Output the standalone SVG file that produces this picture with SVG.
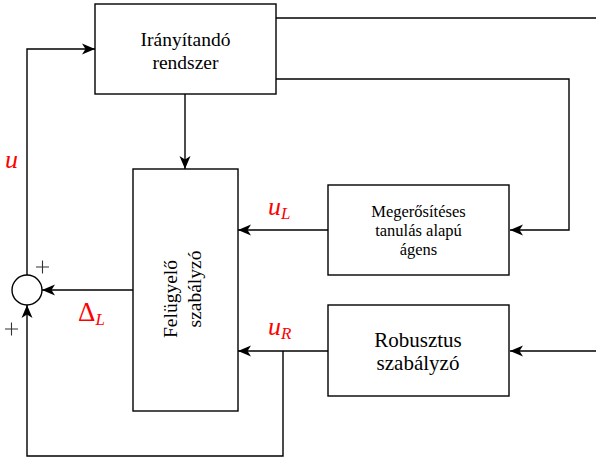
<svg xmlns="http://www.w3.org/2000/svg" width="596" height="459" viewBox="0 0 596 459">
<style>
.box{fill:#fff;stroke:#000;stroke-width:1.4}
.ln{fill:none;stroke:#000;stroke-width:1.4}
text{font-family:'Liberation Serif','Times New Roman',serif}
.t{fill:#000;text-anchor:middle}
.m{fill:#ff0000;font-style:italic}
</style>
<defs>
<marker id="ar" viewBox="0 0 13 12" refX="13" refY="6" markerWidth="13" markerHeight="12" markerUnits="userSpaceOnUse" orient="auto">
<path d="M0,0.5 L13,6 L0,11.5 L3.5,6 Z" fill="#000"/>
</marker>
</defs>
<g id="connectors">
<path class="ln" d="M27,275 V49 H95" marker-end="url(#ar)"/>
<path class="ln" d="M185,94 V169" marker-end="url(#ar)"/>
<path class="ln" d="M276,18 H596"/>
<path class="ln" d="M276,79 H569 V230 H510" marker-end="url(#ar)"/>
<path class="ln" d="M328,230 H238" marker-end="url(#ar)"/>
<path class="ln" d="M328,351 H238" marker-end="url(#ar)"/>
<path class="ln" d="M596,351 H510" marker-end="url(#ar)"/>
<path class="ln" d="M133,290 H42" marker-end="url(#ar)"/>
<path class="ln" d="M283,351 V456 H27 V305" marker-end="url(#ar)"/>
</g>
<g id="plant">
<rect class="box" x="95" y="4" width="181" height="90"/>
<text class="t" x="185.5" y="46" font-size="19.5">Irányítandó</text>
<text class="t" x="185.5" y="69" font-size="19.5">rendszer</text>
</g>
<g id="supervisor">
<rect class="box" x="133" y="169" width="105" height="242"/>
<text class="t" font-size="19.5" transform="translate(177,299) rotate(-90)">Felügyelő</text>
<text class="t" font-size="19.5" transform="translate(201,289) rotate(-90)">szabályzó</text>
</g>
<g id="rl-agent">
<rect class="box" x="328" y="185" width="181" height="90"/>
<text class="t" x="418.5" y="217" font-size="16.5">Megerősítéses</text>
<text class="t" x="418.5" y="236" font-size="16.5">tanulás alapú</text>
<text class="t" x="418.5" y="255" font-size="16.5">ágens</text>
</g>
<g id="robust">
<rect class="box" x="328" y="305" width="181" height="91"/>
<text class="t" x="418" y="347" font-size="21">Robusztus</text>
<text class="t" x="418" y="370" font-size="21">szabályzó</text>
</g>
<g id="sum">
<circle cx="27" cy="290" r="15" fill="#fff" stroke="#000" stroke-width="1.4"/>
<path d="M36,267 H49 M42.5,260.5 V273.5 M5,329 H18 M11.5,322.5 V335.5" stroke="#333" stroke-width="1.1" fill="none"/>
</g>
<g id="labels">
<text class="m" x="5" y="168" font-size="26">u</text>
<text class="m" x="268" y="215" font-size="26">u<tspan font-size="17" dy="4">L</tspan></text>
<text class="m" x="268" y="335" font-size="26">u<tspan font-size="17" dy="4">R</tspan></text>
<text x="78" y="321" font-size="27" fill="#ff0000">Δ<tspan font-size="17" dy="4" font-style="italic">L</tspan></text>
</g>
</svg>
